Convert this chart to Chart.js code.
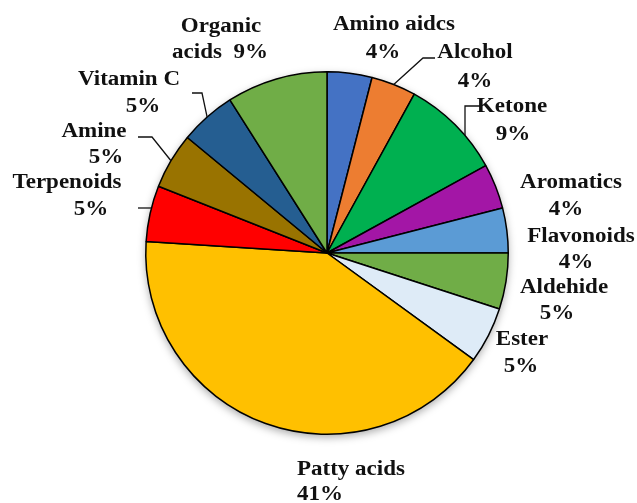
<!DOCTYPE html>
<html>
<head>
<meta charset="UTF-8">
<title>Composition</title>
<script src="https://cdn.jsdelivr.net/npm/chart.js"></script>
<style>
    body { margin: 0; background: #fff; }
</style>
</head>
<body>
<canvas id="chart" width="637" height="503"></canvas>

<script>
    var categories = ['Amino aidcs', 'Alcohol', 'Ketone', 'Aromatics', 'Flavonoids', 'Aldehide',
        'Ester', 'Patty acids', 'Terpenoids', 'Amine', 'Vitamin C', 'Organic acids'];
    var percents = [4, 4, 9, 4, 4, 5, 5, 41, 5, 5, 5, 9];
    var sliceColors = ['#4472C4', '#ED7D31', '#00B050', '#A316A6', '#5B9BD5', '#70AD47',
        '#DEEBF7', '#FFC000', '#FF0000', '#997300', '#255E91', '#70AD47'];

    // where each label sits: [centre x, baseline y] per line, plus leader elbow points.
    // "end" says how the leader meets the pie: 'mid' (slice middle), 'down' or 'side'
    var labelPlaces = [
        { lines: [[394, 30], [383, 58]] },
        { lines: [[475, 58], [475, 87]], leader: [[435, 58], [423, 58]], end: 'mid' },
        { lines: [[512, 112], [513, 140]], leader: [[480, 106], [465, 106]], end: 'down' },
        { lines: [[571, 188], [566, 215]] },
        { lines: [[581, 242], [576, 268]] },
        { lines: [[564, 293], [557, 319]] },
        { lines: [[522, 345], [521, 372]] },
        { lines: [[297, 475], [297, 500]], align: 'left' },
        { lines: [[67, 188], [91, 215]], leader: [[138, 208]], end: 'side' },
        { lines: [[94, 137], [106, 163]], leader: [[138, 137], [152, 137]], end: 'mid' },
        { lines: [[129, 85], [143, 112]], leader: [[192, 93], [202, 93]], end: 'mid' },
        { lines: [[221, 32], [220, 58]], split: true }
    ];

    function labelLines(i) {
        var pct = percents[i] + '%';
        if (labelPlaces[i].split) {
            var words = categories[i].split(' ');
            return [words[0], words.slice(1).join(' ') + '  ' + pct];
        }
        return [categories[i], pct];
    }

    function leaderEnd(a, place) {
        var last = place.leader[place.leader.length - 1];
        var r = a.outerRadius;
        if (place.end === 'down') {
            var dx = last[0] - a.x;
            return [last[0], a.y - Math.sqrt(r * r - dx * dx)];
        }
        if (place.end === 'side') {
            var dy = last[1] - a.y;
            var sx = last[0] < a.x ? -1 : 1;
            return [a.x + sx * Math.sqrt(r * r - dy * dy), last[1]];
        }
        var mid = (a.startAngle + a.endAngle) / 2;
        return [a.x + Math.cos(mid) * r, a.y + Math.sin(mid) * r];
    }

    // soft shadow under the whole pie
    var pieShadow = {
        id: 'pieShadow',
        beforeDatasetsDraw: function (chart) {
            var arc = chart.getDatasetMeta(0).data[0];
            var ctx = chart.ctx;
            ctx.save();
            ctx.shadowColor = 'rgba(0,0,0,0.35)';
            ctx.shadowBlur = 9;
            ctx.shadowOffsetY = 3;
            ctx.fillStyle = '#fff';
            ctx.beginPath();
            ctx.arc(arc.x, arc.y, arc.outerRadius, 0, Math.PI * 2);
            ctx.fill();
            ctx.restore();
        }
    };

    var sliceLabels = {
        id: 'sliceLabels',
        afterDatasetsDraw: function (chart) {
            var ctx = chart.ctx;
            var arcs = chart.getDatasetMeta(0).data;
            ctx.save();
            ctx.fillStyle = '#111';
            ctx.strokeStyle = '#111';
            ctx.lineWidth = 1.3;
            ctx.font = 'bold 20px "Liberation Serif", serif';
            ctx.textBaseline = 'alphabetic';
            for (var i = 0; i < arcs.length; i++) {
                var place = labelPlaces[i];
                var texts = labelLines(i);
                ctx.textAlign = place.align || 'center';
                for (var j = 0; j < texts.length; j++) {
                    ctx.save();
                    ctx.translate(place.lines[j][0], place.lines[j][1]);
                    ctx.scale(1.15, 1);
                    ctx.fillText(texts[j], 0, 0);
                    ctx.restore();
                }
                if (place.leader) {
                    var end = leaderEnd(arcs[i], place);
                    ctx.beginPath();
                    ctx.moveTo(place.leader[0][0], place.leader[0][1]);
                    for (var k = 1; k < place.leader.length; k++) {
                        ctx.lineTo(place.leader[k][0], place.leader[k][1]);
                    }
                    ctx.lineTo(end[0], end[1]);
                    ctx.stroke();
                }
            }
            ctx.restore();
        }
    };

    var ctx = document.getElementById('chart').getContext('2d');
    var chart = new Chart(ctx, {
        type: 'pie',
        data: {
            labels: categories,
            datasets: [{
                data: percents,
                backgroundColor: sliceColors,
                borderColor: '#000',
                borderWidth: 1.5
            }]
        },
        options: {
            responsive: false,
            animation: false,
            layout: {
                padding: { top: 71, bottom: 68, left: 145, right: 128 }
            },
            plugins: {
                legend: { display: false },
                tooltip: { enabled: false }
            }
        },
        plugins: [pieShadow, sliceLabels]
    });
</script>
</body>
</html>
